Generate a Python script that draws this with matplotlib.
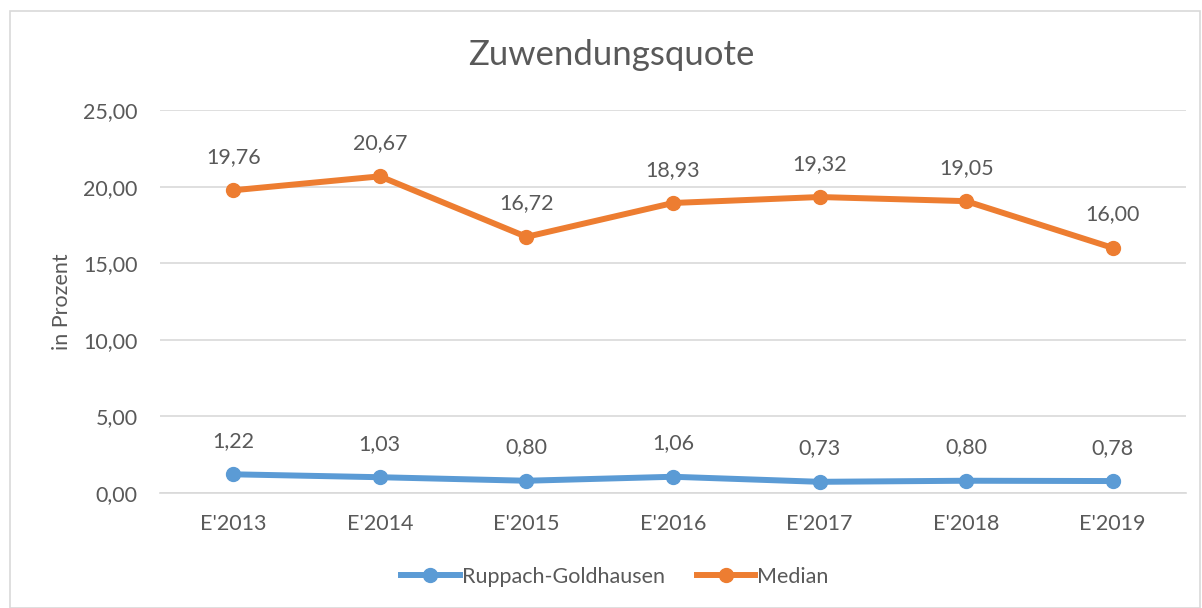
import matplotlib.pyplot as plt
from matplotlib.patches import Rectangle

plt.rcParams['font.family'] = ['Lato', 'DejaVu Sans']

jahre = ["E'2013", "E'2014", "E'2015", "E'2016", "E'2017", "E'2018", "E'2019"]
ruppach = [1.22, 1.03, 0.80, 1.06, 0.73, 0.80, 0.78]
median = [19.76, 20.67, 16.72, 18.93, 19.32, 19.05, 16.00]

blau = '#5B9BD5'
orange = '#ED7D31'
textfarbe = '#595959'

fig = plt.figure(figsize=(12.02, 6.08), dpi=100)
fig.patches.append(Rectangle((10 / 1202, 0), 1190 / 1202, 597 / 608, transform=fig.transFigure,
                             fill=False, edgecolor='#D9D9D9', linewidth=1.2))
ax = fig.add_axes([160 / 1202, 115 / 608, 1026 / 1202, 383 / 608])

x = list(range(len(jahre)))
ax.plot(x, ruppach, color=blau, lw=4.3, marker='o', ms=10, label='Ruppach-Goldhausen', zorder=3)
ax.plot(x, median, color=orange, lw=4.3, marker='o', ms=10, label='Median', zorder=3)

# Datenbeschriftungen
for reihe in (ruppach, median):
    for xi, v in zip(x, reihe):
        ax.annotate(f'{v:.2f}'.replace('.', ','), (xi, v), xytext=(0, 24), textcoords='offset points',
                    ha='center', va='center', fontsize=15.5, color=textfarbe)

ax.set_xlim(-0.5, len(jahre) - 0.5)
ax.set_ylim(0, 25)
ax.set_yticks([0, 5, 10, 15, 20, 25])
ax.set_yticklabels([f'{t:.2f}'.replace('.', ',') for t in [0, 5, 10, 15, 20, 25]])
ax.set_xticks(x)
ax.set_xticklabels(jahre)
ax.tick_params(axis='both', length=0, labelsize=15.5, labelcolor=textfarbe)
ax.tick_params(axis='y', pad=16)
ax.tick_params(axis='x', pad=15)
ax.grid(axis='y', color='#D9D9D9', lw=1.2)
ax.set_axisbelow(True)
for s in ['top', 'right', 'left']:
    ax.spines[s].set_visible(False)
ax.spines['bottom'].set_color('#D9D9D9')
ax.spines['bottom'].set_linewidth(1.2)

ax.set_ylabel('in Prozent', fontsize=15.5, color=textfarbe, labelpad=8)
fig.text(611 / 1202, 1 - 55 / 608, 'Zuwendungsquote', ha='center', va='center', fontsize=25, color=textfarbe)

fig.legend(loc='center', bbox_to_anchor=(615 / 1202, 1 - 577 / 608), ncol=2, frameon=False,
           fontsize=15.5, labelcolor=textfarbe, handlelength=2.7, handletextpad=0.1, columnspacing=1.5)

fig.savefig('out.png', dpi=100)
